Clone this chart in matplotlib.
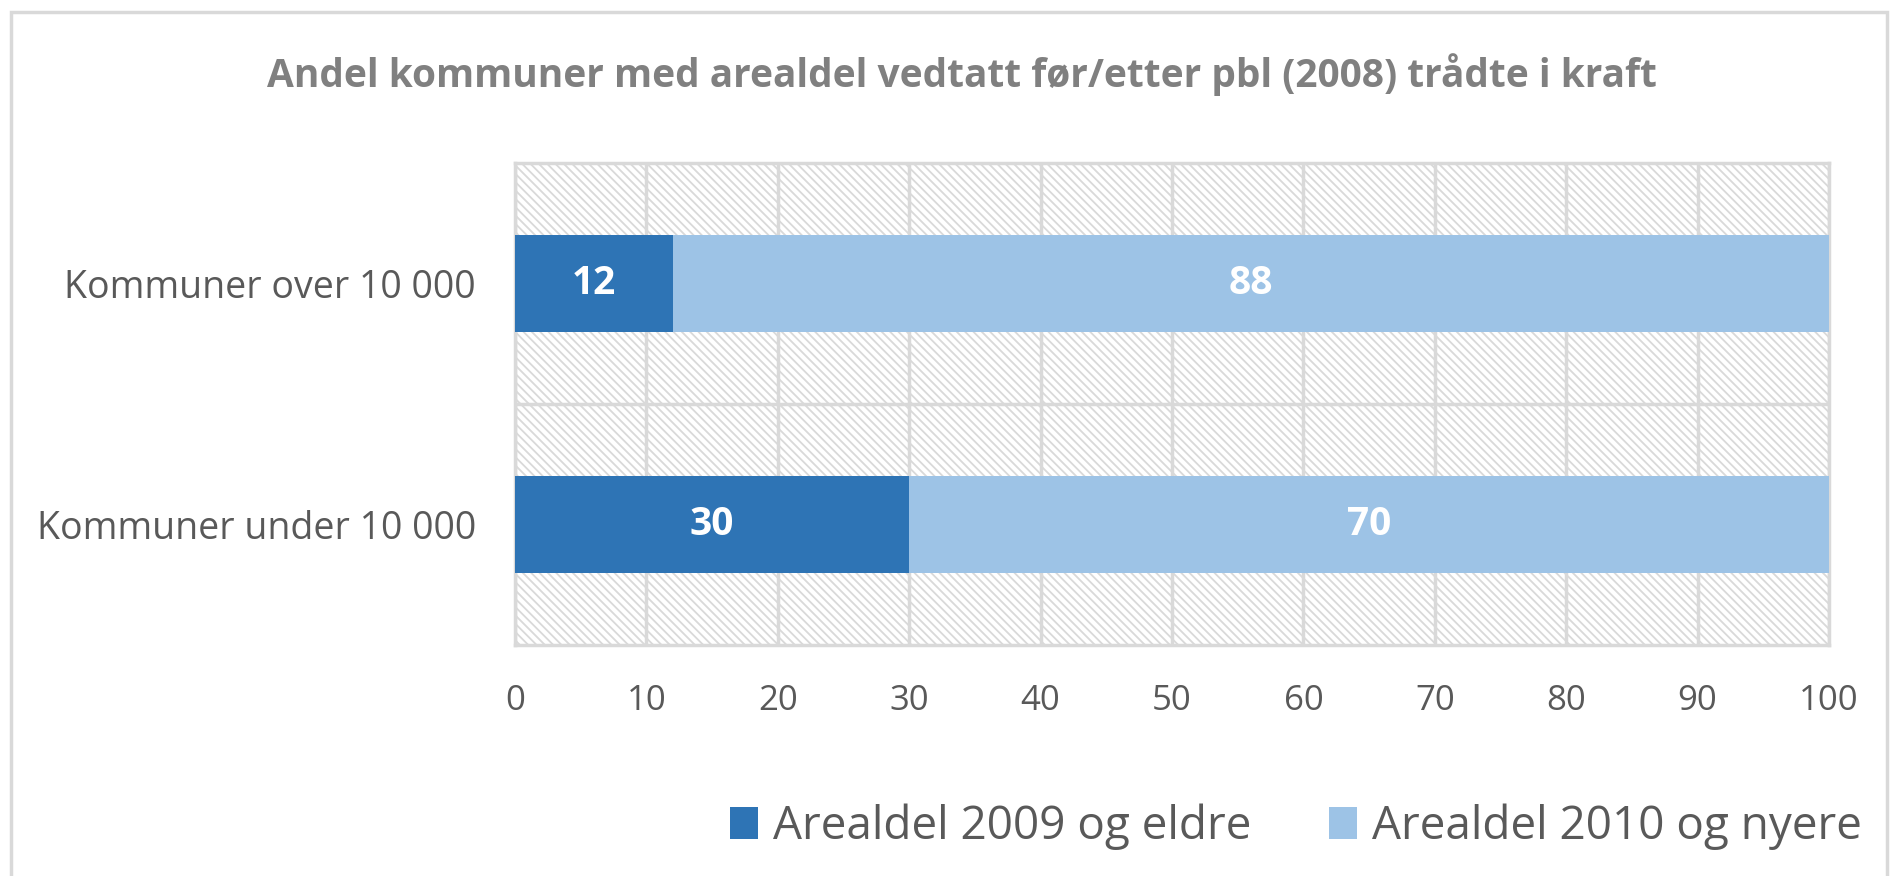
import matplotlib.pyplot as plt
from matplotlib.patches import Rectangle
import numpy as np

# Data
categories = ["Kommuner under 10 000", "Kommuner over 10 000"]
eldre = [30, 12]
nyere = [70, 88]
series_names = ["Arealdel 2009 og eldre", "Arealdel 2010 og nyere"]
xticks = [0, 10, 20, 30, 40, 50, 60, 70, 80, 90, 100]

dark = "#2E74B5"
light = "#9DC3E6"
grid_c = "#D9D9D9"
text_c = "#595959"

plt.rcParams['font.family'] = ['Open Sans', 'DejaVu Sans']
plt.rcParams['hatch.linewidth'] = 1.3
plt.rcParams['hatch.color'] = grid_c

W, H = 1893, 876
fig = plt.figure(figsize=(W / 100, H / 100), dpi=100)
ax = fig.add_axes([515 / W, 1 - 645 / H, (1829 - 515) / W, (645 - 163) / H])

# hatched plot background
ax.add_patch(Rectangle((0, 0), 1, 1, transform=ax.transAxes, facecolor="white",
                       edgecolor=grid_c, hatch="\\\\\\\\", lw=0, zorder=0))

y = np.arange(len(categories))
h = 0.40
b1 = ax.barh(y, eldre, height=h, color=dark, label=series_names[0], zorder=3)
b2 = ax.barh(y, nyere, left=eldre, height=h, color=light, label=series_names[1], zorder=3)

for bars, lefts, vals in [(b1, [0, 0], eldre), (b2, eldre, nyere)]:
    for bar, l, v in zip(bars, lefts, vals):
        ax.text(l + v / 2, bar.get_y() + h / 2, str(v), ha="center", va="center",
                color="white", fontsize=28, fontweight="bold", zorder=4)

ax.set_xlim(0, 100)
ax.set_ylim(-0.5, 1.5)
ax.set_xticks(xticks)
ax.set_yticks(y)
ax.set_yticklabels(categories)
ax.tick_params(axis="both", length=0, colors=text_c)
ax.tick_params(axis="x", pad=28, labelsize=25)
ax.tick_params(axis="y", pad=28, labelsize=27)
ax.grid(axis="x", color=grid_c, lw=2.5, zorder=1)
ax.grid(axis="y", visible=False)
ax.axhline(0.5, color=grid_c, lw=2.5, zorder=1)
for s in ax.spines.values():
    s.set_color(grid_c)
    s.set_linewidth(2.5)

fig.text(962 / W, 1 - 75 / H,
         "Andel kommuner med arealdel vedtatt før/etter pbl (2008) trådte i kraft",
         ha="center", va="center", fontsize=28, fontweight="bold", color="#808080")

leg = fig.legend(handles=[b1, b2], loc="center", bbox_to_anchor=(1296 / W, 1 - 827 / H),
                 ncol=2, frameon=False, fontsize=33, labelcolor=text_c,
                 handlelength=0.6, handleheight=0.7, handletextpad=0.33, columnspacing=1.7)

# outer chart border
fig.patches.append(Rectangle((11 / W, -0.01), (1887 - 11) / W, 1 - 12 / H + 0.01,
                             transform=fig.transFigure, fill=False, edgecolor=grid_c, lw=2.5))

fig.savefig("out.png", dpi=100)
